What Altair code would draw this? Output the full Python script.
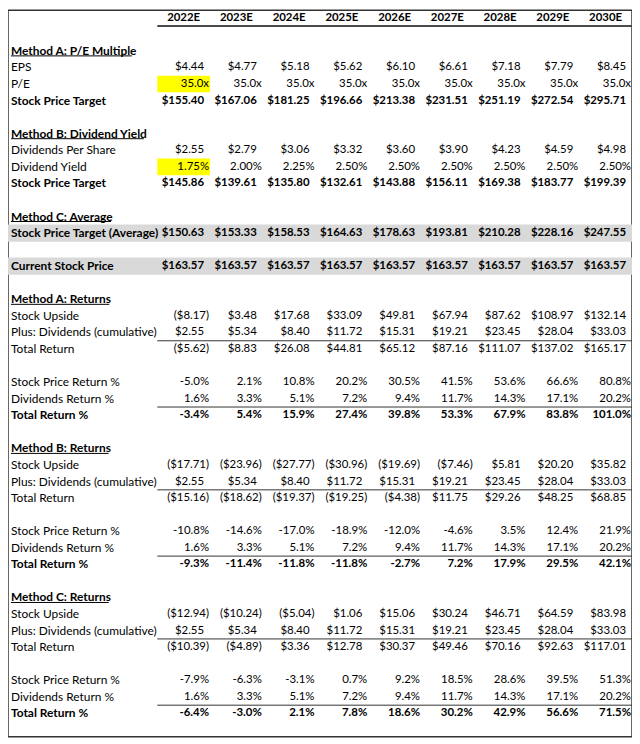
import altair as alt
import pandas as pd

years = ["2022E", "2023E", "2024E", "2025E", "2026E", "2027E", "2028E", "2029E", "2030E"]

eps = [4.44, 4.77, 5.18, 5.62, 6.10, 6.61, 7.18, 7.79, 8.45]
pe_multiple = [35.0, 35.0, 35.0, 35.0, 35.0, 35.0, 35.0, 35.0, 35.0]
target_a = [155.40, 167.06, 181.25, 196.66, 213.38, 231.51, 251.19, 272.54, 295.71]

dividends_ps = [2.55, 2.79, 3.06, 3.32, 3.60, 3.90, 4.23, 4.59, 4.98]
dividend_yield = [1.75, 2.00, 2.25, 2.50, 2.50, 2.50, 2.50, 2.50, 2.50]
target_b = [145.86, 139.61, 135.80, 132.61, 143.88, 156.11, 169.38, 183.77, 199.39]

target_avg = [150.63, 153.33, 158.53, 164.63, 178.63, 193.81, 210.28, 228.16, 247.55]
current_price = [163.57, 163.57, 163.57, 163.57, 163.57, 163.57, 163.57, 163.57, 163.57]

dividends_cum = [2.55, 5.34, 8.40, 11.72, 15.31, 19.21, 23.45, 28.04, 33.03]
dividends_ret = [1.6, 3.3, 5.1, 7.2, 9.4, 11.7, 14.3, 17.1, 20.2]

upside_a = [-8.17, 3.48, 17.68, 33.09, 49.81, 67.94, 87.62, 108.97, 132.14]
total_a = [-5.62, 8.83, 26.08, 44.81, 65.12, 87.16, 111.07, 137.02, 165.17]
price_ret_a = [-5.0, 2.1, 10.8, 20.2, 30.5, 41.5, 53.6, 66.6, 80.8]
total_pct_a = [-3.4, 5.4, 15.9, 27.4, 39.8, 53.3, 67.9, 83.8, 101.0]

upside_b = [-17.71, -23.96, -27.77, -30.96, -19.69, -7.46, 5.81, 20.20, 35.82]
total_b = [-15.16, -18.62, -19.37, -19.25, -4.38, 11.75, 29.26, 48.25, 68.85]
price_ret_b = [-10.8, -14.6, -17.0, -18.9, -12.0, -4.6, 3.5, 12.4, 21.9]
total_pct_b = [-9.3, -11.4, -11.8, -11.8, -2.7, 7.2, 17.9, 29.5, 42.1]

upside_c = [-12.94, -10.24, -5.04, 1.06, 15.06, 30.24, 46.71, 64.59, 83.98]
total_c = [-10.39, -4.89, 3.36, 12.78, 30.37, 49.46, 70.16, 92.63, 117.01]
price_ret_c = [-7.9, -6.3, -3.1, 0.7, 9.2, 18.5, 28.6, 39.5, 51.3]
total_pct_c = [-6.4, -3.0, 2.1, 7.8, 18.6, 30.2, 42.9, 56.6, 71.5]

# ---------------- layout ----------------
FONT = "Lato"
FS_LABEL = 12
FS_VALUE = 11.5
W, H = 628, 731
COL_PX = 53.0                      # width of one year column in px
ROW_PX = 16.67                     # height of one row in px
X_MIN = -150.0 / COL_PX            # label column, in column units
X_MAX = 9.0
Y_MIN = -7.5 / ROW_PX              # row units (row r centred at r)
Y_MAX = Y_MIN + H / ROW_PX
PX = 1.0 / COL_PX


def usd(v):
    return f"${v:,.2f}" if v >= 0 else f"(${-v:,.2f})"


def pct1(v):
    return f"{v:.1f}%"


def pct2(v):
    return f"{v:.2f}%"


def mult(v):
    return f"{v:.1f}x"


rows = [
    (2, "Method A: P/E Multiple", None, None, "title"),
    (3, "EPS", eps, usd, "normal"),
    (4, "P/E", pe_multiple, mult, "normal"),
    (5, "Stock Price Target", target_a, usd, "bold"),
    (7, "Method B: Dividend Yield", None, None, "title"),
    (8, "Dividends Per Share", dividends_ps, usd, "normal"),
    (9, "Dividend Yield", dividend_yield, pct2, "normal"),
    (10, "Stock Price Target", target_b, usd, "bold"),
    (12, "Method C: Average", None, None, "title"),
    (13, "Stock Price Target (Average)", target_avg, usd, "bold"),
    (15, "Current Stock Price", current_price, usd, "bold"),
]
returns = [
    (17, "A", upside_a, total_a, price_ret_a, total_pct_a),
    (26, "B", upside_b, total_b, price_ret_b, total_pct_b),
    (35, "C", upside_c, total_c, price_ret_c, total_pct_c),
]
subtotal_lines = []
for r0, m, up, tot, pr, tp in returns:
    rows += [
        (r0, f"Method {m}: Returns", None, None, "title"),
        (r0 + 1, "Stock Upside", up, usd, "normal"),
        (r0 + 2, "Plus: Dividends (cumulative)", dividends_cum, usd, "normal"),
        (r0 + 3, "Total Return", tot, usd, "normal"),
        (r0 + 5, "Stock Price Return %", pr, pct1, "normal"),
        (r0 + 6, "Dividends Return %", dividends_ret, pct1, "normal"),
        (r0 + 7, "Total Return %", tp, pct1, "bold"),
    ]
    subtotal_lines += [r0 + 2.5, r0 + 6.5]

# approximate Lato Bold advance widths (em) for title underlines
_w = {"M": .79, "A": .68, "B": .62, "C": .64, "P": .58, "E": .54, "R": .6, "D": .72,
      "Y": .6, " ": .26, ":": .27, "/": .38, "i": .25, "l": .25, "t": .36, "r": .38,
      "v": .5, "y": .5, "u": .56, "n": .56, "d": .56, "h": .56, "o": .56, "p": .56,
      "e": .52, "s": .43, "a": .5, "g": .5}


def text_px(s):
    return sum(_w.get(c, .55) for c in s) * FS_LABEL


cells, underlines = [], []
for i, y in enumerate(years):
    cells.append(dict(row=0, x=i + 0.5, text=y, kind="head", bold=True, pad=False))
for r, label, vals, fmt, style in rows:
    cells.append(dict(row=r, x=X_MIN, text=label, kind="label", bold=style != "normal", pad=False))
    if style == "title":
        underlines.append(dict(y=r + 0.3, x=X_MIN + 3 * PX, x2=X_MIN + (3 + text_px(label)) * PX))
    if vals is not None:
        for i, v in enumerate(vals):
            cells.append(dict(row=r, x=i + 1, text=fmt(v), kind="value",
                              bold=style == "bold", pad=(fmt is usd and v >= 0)))
cells = pd.DataFrame(cells)
underlines = pd.DataFrame(underlines)

bands = pd.DataFrame([dict(x=X_MIN, x2=X_MAX, y=r - 0.52, y2=r + 0.52) for r in (13, 15)])
yellow = pd.DataFrame([dict(x=0, x2=1, y=r - 0.5, y2=r + 0.5) for r in (4, 9)])
lines = pd.DataFrame([dict(x=0, x2=X_MAX, y=r) for r in subtotal_lines])
head_line = pd.DataFrame([dict(x=0, x2=X_MAX, y=0.5)])

xs = alt.Scale(domain=[X_MIN, X_MAX], nice=False, zero=False)
ys = alt.Scale(domain=[Y_MIN, Y_MAX], nice=False, zero=False, reverse=True)
X = lambda f="x": alt.X(f"{f}:Q", scale=xs, axis=None)
Y = lambda f="row": alt.Y(f"{f}:Q", scale=ys, axis=None)


def rect_layer(df, color):
    return alt.Chart(df).mark_rect(color=color).encode(
        x=X(), x2="x2:Q", y=Y("y"), y2="y2:Q")


def rule_layer(df, width, color):
    return alt.Chart(df).mark_rule(strokeWidth=width, color=color).encode(
        x=X(), x2="x2:Q", y=Y("y"))


def text_layer(flt, align, dx, bold, size):
    return alt.Chart(cells).transform_filter(flt).mark_text(
        align=align, baseline="middle", dx=dx, font=FONT, fontSize=size,
        fontWeight="bold" if bold else "normal", color="#000000"
    ).encode(x=X(), y=Y(), text="text:N")


layers = [
    rect_layer(bands, "#d9d9d9"),
    rect_layer(yellow, "#ffff00"),
    rule_layer(head_line, 2, "#4a4a4a"),
    rule_layer(lines, 1, "#333333"),
    rule_layer(underlines, 1, "#000000"),
    text_layer("datum.kind == 'head'", "center", 0, True, FS_VALUE),
    text_layer("datum.kind == 'label' && datum.bold", "left", 3, True, FS_LABEL),
    text_layer("datum.kind == 'label' && !datum.bold", "left", 3, False, FS_LABEL),
    text_layer("datum.kind == 'value' && datum.bold && datum.pad", "right", -6, True, FS_VALUE),
    text_layer("datum.kind == 'value' && datum.bold && !datum.pad", "right", -1, True, FS_VALUE),
    text_layer("datum.kind == 'value' && !datum.bold && datum.pad", "right", -6, False, FS_VALUE),
    text_layer("datum.kind == 'value' && !datum.bold && !datum.pad", "right", -1, False, FS_VALUE),
]

chart = alt.layer(*layers).properties(
    width=W, height=H, padding=0, autosize=alt.AutoSizeParams(type="none"),
    background="#ffffff",
).configure_view(stroke="#333333", strokeWidth=1.5)

chart.save("out.html", embed_options={"renderer": "svg", "actions": False})
